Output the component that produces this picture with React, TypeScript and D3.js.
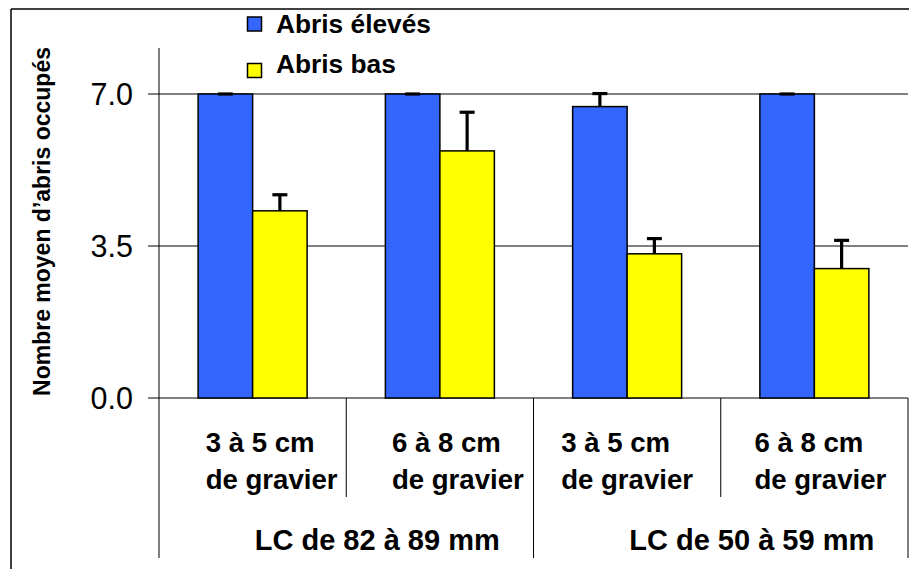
import React from "react";
import * as d3 from "d3";

const categories = ["c1", "c2", "c3", "c4"];
const catLine1 = ["3 à 5 cm", "6 à 8 cm", "3 à 5 cm", "6 à 8 cm"];
const catLine2 = ["de gravier", "de gravier", "de gravier", "de gravier"];
const groupLabels = ["LC de 82 à 89 mm", "LC de 50 à 59 mm"];
const seriesNames = ["Abris élevés", "Abris bas"];
const seriesColors = ["#3366FF", "#FFFF00"];
const eleves = [7.0, 7.0, 6.71, 7.0];
const elevesErr = [0.0, 0.0, 0.3, 0.0];
const bas = [4.31, 5.69, 3.32, 2.98];
const basErr = [0.37, 0.89, 0.35, 0.65];
const yTicks = [0, 3.5, 7];

const W = 909;
const H = 569;
const FONT = "'Liberation Sans', Arial, Helvetica, sans-serif";

export default function App() {
  const left = 159;
  const right = 908;
  const y = d3.scaleLinear().domain([0, 7]).range([398, 94]);
  const yTop = y(8.06);
  const x = d3.scaleBand().domain(categories).range([left, right]).paddingInner(0).paddingOuter(0);
  const barW = 54.5;
  const series = [
    { name: seriesNames[0], color: seriesColors[0], vals: eleves, errs: elevesErr },
    { name: seriesNames[1], color: seriesColors[1], vals: bas, errs: basErr },
  ];
  const labelShift = [-47, -48, -66, -60];
  const groupStarts = [categories[0], categories[2]];
  const bottom = y(0);

  return (
    <div style={{ position: "absolute", left: 0, top: 0 }}>
      <svg width={W} height={H} style={{ display: "block", background: "#fff" }} fontFamily={FONT}>
        <rect x={0} y={0} width={W} height={H} fill="#fff" />
        {/* outer border */}
        <line x1={11} y1={9} x2={W} y2={9} stroke="#000" strokeWidth={1.5} />
        <line x1={11} y1={9} x2={11} y2={H} stroke="#000" strokeWidth={1.5} />

        {/* grid lines and ticks */}
        {yTicks.map((t) => (
          <g key={t}>
            <line x1={148} x2={right} y1={y(t)} y2={y(t)} stroke="#000" strokeWidth={1} />
            <text x={133} y={y(t)} dy="0.36em" textAnchor="end" fontSize={30.5} fill="#000">
              {t.toFixed(1)}
            </text>
          </g>
        ))}
        {/* y axis line */}
        <line x1={left} x2={left} y1={yTop} y2={558} stroke="#000" strokeWidth={1} />

        {/* category dividers */}
        {categories.map((c, i) => {
          const xr = (x(c) as number) + x.bandwidth();
          const isGroupEnd = i === 1 || i === 3;
          return (
            <line key={c} x1={xr} x2={xr} y1={bottom} y2={isGroupEnd ? 558 : 497} stroke="#000" strokeWidth={1} />
          );
        })}

        {/* bars */}
        {series.map((s, si) =>
          categories.map((c, i) => {
            const cx = (x(c) as number) + x.bandwidth() / 2;
            const bx = cx - barW + si * barW;
            const top = y(s.vals[i]);
            return (
              <rect
                key={s.name + c}
                x={bx}
                y={top}
                width={barW}
                height={bottom - top}
                fill={s.color}
                stroke="#000"
                strokeWidth={1.5}
              />
            );
          })
        )}
        {/* error bars */}
        {series.map((s, si) =>
          categories.map((c, i) => {
            const cx = (x(c) as number) + x.bandwidth() / 2;
            const ex = cx - barW / 2 + si * barW;
            const top = y(s.vals[i]);
            const et = y(s.vals[i] + s.errs[i]);
            return (
              <g key={"e" + s.name + c}>
                {s.errs[i] > 0 && <line x1={ex} x2={ex} y1={top} y2={et} stroke="#000" strokeWidth={3.2} />}
                <line x1={ex - 7.5} x2={ex + 7.5} y1={et} y2={et} stroke="#000" strokeWidth={3.2} />
              </g>
            );
          })
        )}

        {/* category labels */}
        {categories.map((c, i) => {
          const cx = (x(c) as number) + x.bandwidth() / 2;
          return (
            <g key={"l" + c} fontWeight="bold" fontSize={27.6} fill="#000">
              <text x={cx + labelShift[i]} y={452}>{catLine1[i]}</text>
              <text x={cx + labelShift[i]} y={489}>{catLine2[i]}</text>
            </g>
          );
        })}
        {groupLabels.map((g, gi) => {
          const gx = (x(groupStarts[gi]) as number) + x.bandwidth();
          return (
            <text key={g} x={gx + 31} y={550} textAnchor="middle" fontWeight="bold" fontSize={29} fill="#000">
              {g}
            </text>
          );
        })}

        {/* y axis title */}
        <text
          transform={`translate(50, 221.5) rotate(-90)`}
          textAnchor="middle"
          fontWeight="bold"
          fontSize={23}
          fill="#000"
        >
          Nombre moyen d’abris occupés
        </text>

        {/* legend */}
        {series.map((s, si) => (
          <g key={"lg" + s.name}>
            <rect x={247.5} y={si === 0 ? 17 : 63.5} width={14} height={14} fill={s.color} stroke="#000" strokeWidth={1.5} />
            <text x={276} y={si === 0 ? 33 : 73} fontWeight="bold" fontSize={26.3} fill="#000">
              {s.name}
            </text>
          </g>
        ))}
      </svg>
    </div>
  );
}
